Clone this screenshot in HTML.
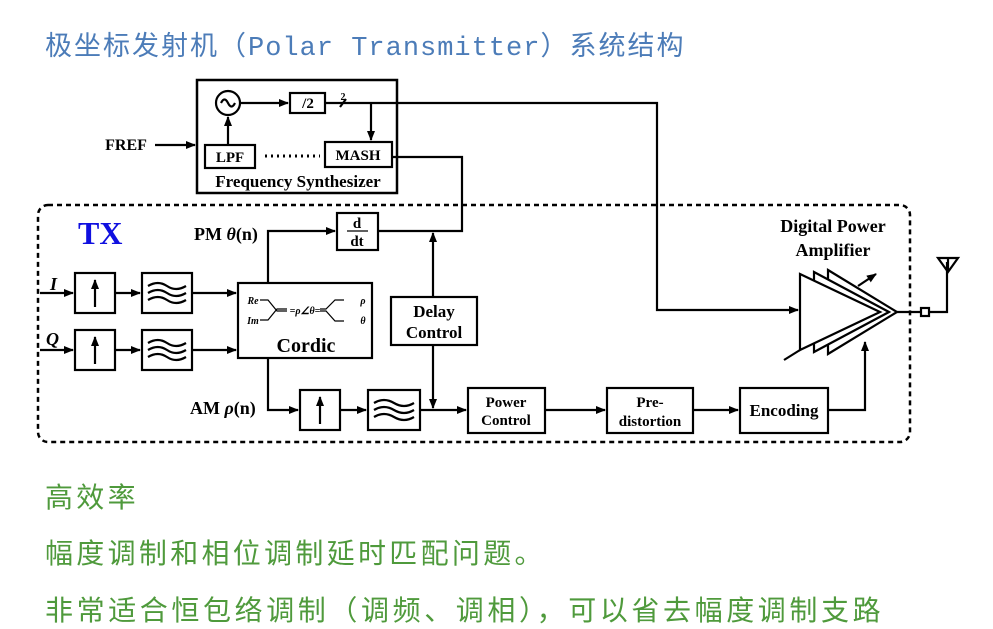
<!DOCTYPE html><html><head><meta charset="utf-8"><style>
body{margin:0;width:993px;height:623px;background:#fff;overflow:hidden;position:relative;font-family:"Liberation Sans","Noto Sans CJK SC",sans-serif}
.t{position:absolute;left:45px;white-space:nowrap;letter-spacing:3.3px;font-size:28px}
.mono{font-family:"Liberation Mono",monospace;letter-spacing:1px}
svg{position:absolute;left:0;top:0}
svg text{font-family:"Liberation Serif",serif;font-weight:bold}
</style></head><body>
<div class="t" style="top:24px;color:#4c7cb8;letter-spacing:2px;font-size:27px">极坐标发射机（<span class="mono">Polar Transmitter</span>）系统结构</div>
<div class="t" style="top:476px;color:#4f9a3c">高效率</div>
<div class="t" style="top:532px;color:#4f9a3c">幅度调制和相位调制延时匹配问题。</div>
<div class="t" style="top:589px;color:#4f9a3c;letter-spacing:3.6px">非常适合恒包络调制（调频、调相），可以省去幅度调制支路</div>
<svg width="993" height="623" viewBox="0 0 993 623">
<defs><marker id="a" markerWidth="10" markerHeight="8" refX="9" refY="4" orient="auto" markerUnits="userSpaceOnUse"><path d="M0,0 L10,4 L0,8z" fill="#000"/></marker></defs>
<g fill="none" stroke="#000" stroke-width="2.2">
<rect x="38" y="205" width="872" height="237" rx="10" stroke-dasharray="5,4" stroke-width="2.5"/>
<rect x="197" y="80" width="200" height="113" stroke-width="2.5"/>
<circle cx="228" cy="103" r="12"/>
<path d="M221,103 q3.5,-7 7,0 t7,0"/>
<rect x="290" y="93" width="35" height="20"/>
<rect x="205" y="145" width="50" height="23"/>
<rect x="325" y="142" width="67" height="25"/>
<path d="M240,103 H288" marker-end="url(#a)"/>
<path d="M228,145 V117" marker-end="url(#a)"/>
<path d="M325,103 H657 V310 H798" marker-end="url(#a)"/>
<path d="M371,103 V140" marker-end="url(#a)"/>
<path d="M340,107 l6,-8"/>
<path d="M155,145 H195" marker-end="url(#a)"/>
<path d="M265,156 H320" stroke-dasharray="2,4" stroke-width="3"/>
<path d="M392,157 H462 V231 H378"/>
<path d="M40,293 H73" marker-end="url(#a)"/><path d="M40,350 H73" marker-end="url(#a)"/>
<rect x="75" y="273" width="40" height="40"/><rect x="75" y="330" width="40" height="40"/>
<path d="M95,307 V280" marker-end="url(#a)"/><path d="M95,364 V337" marker-end="url(#a)"/>
<path d="M115,293 H140" marker-end="url(#a)"/><path d="M115,350 H140" marker-end="url(#a)"/>
<rect x="142" y="273" width="50" height="40"/><rect x="142" y="330" width="50" height="40"/>
<path d="M148,286 q10,-6 19,0 t19,0 M148,293 q10,-6 19,0 t19,0 M148,300 q10,-6 19,0 t19,0 M148,343 q10,-6 19,0 t19,0 M148,350 q10,-6 19,0 t19,0 M148,357 q10,-6 19,0 t19,0"/>
<path d="M192,293 H236" marker-end="url(#a)"/><path d="M192,350 H236" marker-end="url(#a)"/>
<rect x="238" y="283" width="134" height="75"/>
<path d="M260,300 h8 l9,11 h10 M260,320 h8 l9,-11 h10 M320,309 h6 l9,-9 h9 M320,311 h6 l9,10 h9" stroke-width="1.2"/>
<path d="M268,283 V231 H335" marker-end="url(#a)"/>
<rect x="337" y="213" width="41" height="37"/>
<path d="M347,231 H368" stroke-width="1.2"/>
<rect x="391" y="297" width="86" height="48"/>
<path d="M433,297 V233" marker-end="url(#a)"/>
<path d="M433,345 V408" marker-end="url(#a)"/>
<path d="M268,358 V410 H298" marker-end="url(#a)"/>
<rect x="300" y="390" width="40" height="40"/><path d="M320,424 V397" marker-end="url(#a)"/>
<path d="M340,410 H366" marker-end="url(#a)"/>
<rect x="368" y="390" width="52" height="40"/>
<path d="M374,403 q10,-6 20,0 t20,0 M374,410 q10,-6 20,0 t20,0 M374,417 q10,-6 20,0 t20,0"/>
<path d="M420,410 H466" marker-end="url(#a)"/>
<rect x="468" y="388" width="77" height="45"/>
<path d="M545,410 H605" marker-end="url(#a)"/>
<rect x="607" y="388" width="86" height="45"/>
<path d="M693,410 H738" marker-end="url(#a)"/>
<rect x="740" y="388" width="88" height="45"/>
<path d="M828,410 H865 V342" marker-end="url(#a)"/>
<path d="M828,270 L897,312 L828,354 Z" fill="#fff"/>
<path d="M814,272 L889,312 L814,352 Z" fill="#fff"/>
<path d="M800,274 L880,312 L800,350 Z" fill="#fff"/>
<path d="M800,350 l-16,10"/>
<path d="M858,286 L876,274" marker-end="url(#a)"/>
<path d="M897,312 H947 V262"/>
<rect x="921" y="308" width="8" height="8" fill="#fff"/>
<path d="M938,258 L958,258 L948,272 Z M948,258 V272"/>
</g>
<g font-size="15" text-anchor="middle">
<text x="308" y="108">/2</text>
<text x="343" y="100" font-size="10">2</text>
<text x="230" y="162" font-weight="normal">LPF</text>
<text x="358" y="160">MASH</text>
<text x="298" y="187" font-size="17">Frequency Synthesizer</text>
<text x="126" y="150" font-size="16">FREF</text>
<text x="357" y="228">d</text><text x="357" y="246">dt</text>
<text x="434" y="317" font-size="17">Delay</text><text x="434" y="338" font-size="17">Control</text>
<text x="506" y="407" font-size="15">Power</text><text x="506" y="425" font-size="15">Control</text>
<text x="650" y="407" font-size="15">Pre-</text><text x="650" y="426" font-size="15">distortion</text>
<text x="784" y="416" font-size="17">Encoding</text>
<text x="306" y="352" font-size="20">Cordic</text>
<text x="833" y="232" font-size="18">Digital Power</text>
<text x="833" y="256" font-size="18">Amplifier</text>
<text x="305" y="314" font-size="10" font-style="italic">=ρ∠θ=</text>
<text x="253" y="304" font-size="10" font-style="italic">Re</text>
<text x="253" y="324" font-size="10" font-style="italic">Im</text>
<text x="363" y="304" font-size="10" font-style="italic">ρ</text>
<text x="363" y="324" font-size="10" font-style="italic">θ</text>
</g>
<text x="78" y="244" font-size="32" fill="#1010e0">TX</text>
<text x="194" y="240" font-size="18">PM <tspan font-style="italic">θ</tspan>(n)</text>
<text x="190" y="414" font-size="18">AM <tspan font-style="italic">ρ</tspan>(n)</text>
<text x="50" y="290" font-size="18" font-style="italic">I</text>
<text x="46" y="345" font-size="18" font-style="italic">Q</text>
</svg>
</body></html>
